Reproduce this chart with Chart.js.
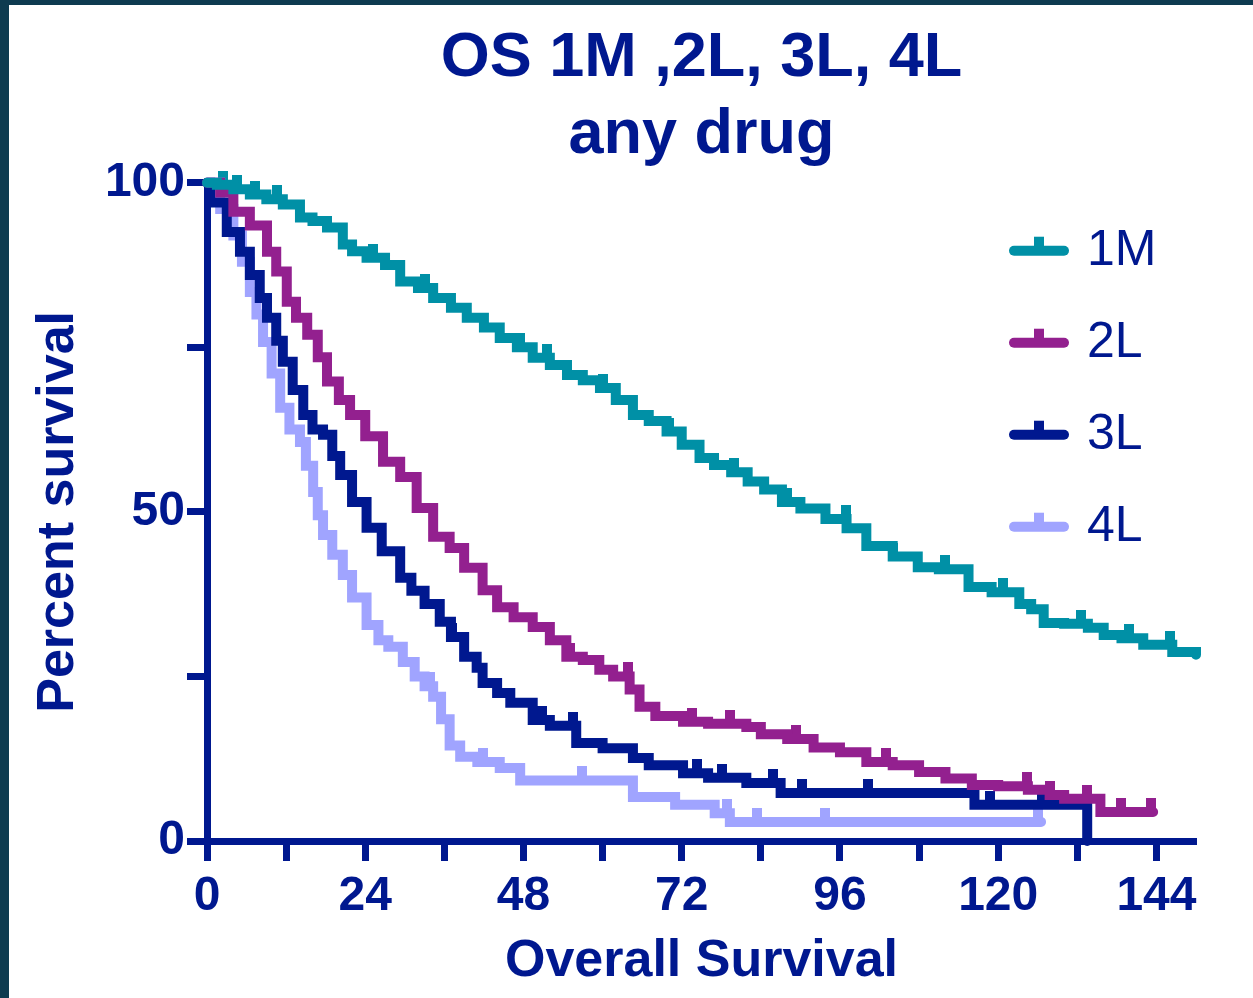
<!DOCTYPE html>
<html>
<head>
<meta charset="utf-8">
<script src="https://cdn.jsdelivr.net/npm/chart.js@4.4.0/dist/chart.umd.min.js"></script>
<style>
  html, body { margin: 0; padding: 0; background: #0e3b50; width: 1253px; height: 998px; overflow: hidden; }
  #frame { position: absolute; left: 9px; top: 5px; width: 1244px; height: 993px; background: #fff; }
</style>
</head>
<body>
<div id="frame"><canvas id="osChart" width="1244" height="993"></canvas></div>
<script>
const seriesNames = ['1M', '2L', '3L', '4L'];
const seriesColors = ['#0090a6', '#93208f', '#00188f', '#a0a4ff'];
const axisColor = '#00188f';

// months / percent survival
const time1M = [0, 1.5, 4, 6.5, 9, 11.5, 14.1, 16, 18.2, 20.6, 22, 24.2, 27, 29.3, 32, 34.3, 37, 39.4, 42, 44.4, 47, 49.4, 52, 54.6, 57, 59.6, 62, 64.6, 67, 69.7, 72, 74.7, 76.9, 79.5, 82, 84.5, 87.2, 90, 93.8, 97, 100, 104, 107.8, 111, 115.5, 119, 123.2, 125, 126.9, 130, 133.6, 136, 138.7, 142, 146.4, 150];
const surv1M = [100, 99.7, 99, 98.2, 97.5, 96.7, 94.7, 94.2, 93.2, 90.6, 89.6, 88.6, 87.5, 85, 84, 82.5, 81, 79.5, 78, 76.4, 75, 73.4, 72.3, 70.8, 70, 68.8, 67, 64.7, 63.8, 62.2, 60.2, 58.2, 57.1, 56, 54.6, 53.4, 51.5, 50.5, 48.9, 47.5, 44.8, 43.2, 41.6, 41.3, 38.6, 37.8, 36, 35.2, 33.1, 33, 32.4, 31.3, 30.8, 29.8, 28.7, 28.3];

const time2L = [0, 2, 4, 6.5, 9.1, 10.5, 12.1, 13.5, 15.2, 16.8, 18.2, 20, 21.7, 24, 26.7, 29.3, 31.8, 34.3, 36.8, 39, 41.8, 44, 46.5, 49.4, 52, 54.5, 57, 59.5, 61.6, 64.1, 65.6, 68, 72.2, 76, 81.8, 84, 88, 92, 96, 100, 104, 108, 112, 116, 120, 124.5, 127.8, 130, 135.5, 143.5];
const surv2L = [100, 98.5, 95.6, 93.5, 89.5, 86.5, 81.9, 79.5, 76.9, 73.5, 69.8, 67, 64.7, 61.5, 57.6, 55.3, 50.6, 46.2, 44.5, 41.5, 38.1, 35.5, 34, 32.5, 30.5, 28, 27.5, 26, 25, 23, 20.4, 19, 18.1, 17.8, 17.3, 16.2, 15.5, 14.2, 13.5, 12, 11.5, 10.5, 9.5, 8.5, 8.3, 7.8, 7, 6.4, 4.4, 4.4];

const time3L = [0, 0.5, 3, 5, 6.5, 8, 9.1, 10.5, 11.5, 13, 14.6, 16, 17.6, 19, 20.2, 22, 24.2, 26.5, 29.3, 31, 33, 35.3, 37, 39, 40.9, 41.8, 44, 46, 49.4, 52, 56, 60, 64.6, 67, 72.2, 76, 81.8, 87, 116.4, 133.5, 133.5];
const surv3L = [100, 97, 92.5, 89.5, 86, 82.5, 79.5, 76, 72.8, 68.5, 64.7, 62.5, 61.7, 58.5, 55.6, 51.5, 47.6, 44, 40, 38, 36, 33.3, 31, 28, 26.3, 24, 22.5, 21, 18.4, 17.5, 14.9, 14.1, 12.6, 11.5, 10.3, 9.6, 8.8, 7.3, 5.5, 5.5, 0];

const time4L = [0, 2, 4, 5.3, 6.5, 7.5, 8.5, 9.8, 11.1, 12.5, 14.1, 15, 16.1, 16.8, 17.6, 19, 20.6, 22, 24.2, 26, 27.5, 29.7, 31.5, 33, 34.3, 35.5, 36.8, 38.4, 41, 44.4, 47.5, 64.6, 71, 77, 79.3, 126.5];
const surv4L = [100, 96, 92, 88, 83.4, 80, 75.8, 71, 65.8, 62.5, 60.6, 57, 53, 49.5, 46.5, 43.5, 40.4, 37, 32.8, 30.5, 29.5, 27.2, 25, 23.5, 21.9, 18.5, 14.5, 12.8, 12, 11.1, 9.2, 6.7, 5.5, 4.2, 2.9, 2.9];

// censored observations (months)
const censor1M = [2.5, 4.5, 7.3, 10.6, 25.2, 33, 47.4, 51.5, 60, 70, 80, 88, 96.9, 104, 112, 120.7, 132.5, 139.8, 146];
const censor2L = [55, 63.8, 73.5, 79.3, 89.4, 103, 124.3, 127.8, 133.4, 138.7, 143.2];
const censor3L = [37.1, 50.8, 55.5, 74.3, 78.1, 85.8, 90.2, 100.2, 118.7, 126.7];
const censor4L = [33.8, 41.8, 56.8, 78.8, 83.4, 93.7, 126];

const xTicks = [0, 12, 24, 36, 48, 60, 72, 84, 96, 108, 120, 132, 144];
const xLabels = [0, 24, 48, 72, 96, 120, 144];
const yTicks = [0, 25, 50, 75, 100];
const yLabels = [0, 50, 100];

const times = [time1M, time2L, time3L, time4L];
const survs = [surv1M, surv2L, surv3L, surv4L];
const censors = [censor1M, censor2L, censor3L, censor4L];

function stepAt(ts, vs, t) {
    let v = vs[0];
    for (let i = 0; i < ts.length; i++) {
        if (ts[i] <= t) v = vs[i];
    }
    return v;
}

function tickImage(color) {
    const c = document.createElement('canvas');
    c.width = 10;
    c.height = 28;
    const g = c.getContext('2d');
    g.fillStyle = color;
    g.fillRect(0, 0, 10, 14);
    return c;
}

Chart.defaults.font.family = '"Liberation Sans", Arial, sans-serif';

const datasets = [];
seriesNames.forEach((name, i) => {
    datasets.push({
        label: name,
        data: times[i].map((t, k) => ({ x: t, y: survs[i][k] })),
        borderColor: seriesColors[i],
        backgroundColor: seriesColors[i],
        borderWidth: 10,
        borderCapStyle: 'round',
        stepped: true,
        pointRadius: 0,
        clip: false
    });
});
seriesNames.forEach((name, i) => {
    datasets.push({
        label: name + ' censored',
        data: censors[i].map(t => ({ x: t, y: stepAt(times[i], survs[i], t) })),
        showLine: false,
        pointStyle: tickImage(seriesColors[i]),
        pointRadius: 5,
        clip: false
    });
});

const legendPlugin = {
    id: 'kmLegend',
    afterDatasetsDraw(chart) {
        const ctx = chart.ctx;
        const area = chart.chartArea;
        ctx.save();
        seriesNames.forEach((name, i) => {
            const y = area.top + 68 + i * 92;
            const x0 = area.right - 182;
            const x1 = area.right - 132;
            ctx.strokeStyle = seriesColors[i];
            ctx.fillStyle = seriesColors[i];
            ctx.lineWidth = 10;
            ctx.lineCap = 'round';
            ctx.beginPath();
            ctx.moveTo(x0, y);
            ctx.lineTo(x1, y);
            ctx.stroke();
            ctx.fillRect(area.right - 162, y - 14, 10, 10);
            ctx.fillStyle = axisColor;
            ctx.font = '50px "Liberation Sans", Arial, sans-serif';
            ctx.textAlign = 'left';
            ctx.textBaseline = 'middle';
            ctx.fillText(name, area.right - 109, y);
        });
        ctx.restore();
    }
};

new Chart(document.getElementById('osChart').getContext('2d'), {
    type: 'line',
    data: { datasets: datasets },
    options: {
        responsive: false,
        animation: false,
        events: [],
        layout: { padding: { left: 0, right: 57, top: 0, bottom: 0 } },
        plugins: {
            legend: { display: false },
            tooltip: { enabled: false },
            title: {
                display: true,
                fullSize: false,
                text: ['OS 1M ,2L, 3L, 4L', 'any drug'],
                color: axisColor,
                font: { size: 63, weight: 'bold', lineHeight: 1.22 },
                padding: { top: 15, bottom: 9 }
            }
        },
        scales: {
            x: {
                type: 'linear',
                min: 0,
                max: 150,
                afterBuildTicks: s => { s.ticks = xTicks.map(v => ({ value: v })); },
                afterFit: s => { s.height = 157; },
                border: { color: axisColor, width: 7 },
                grid: { display: true, drawOnChartArea: false, drawTicks: true, tickLength: 20, tickWidth: 7, tickColor: axisColor },
                ticks: {
                    autoSkip: false,
                    maxRotation: 0,
                    padding: 7,
                    color: axisColor,
                    font: { size: 48, weight: 'bold' },
                    callback: v => xLabels.includes(v) ? String(v) : ''
                },
                title: {
                    display: true,
                    text: 'Overall Survival',
                    color: axisColor,
                    font: { size: 52, weight: 'bold' },
                    padding: { top: 0, bottom: 5 }
                }
            },
            y: {
                min: 0,
                max: 100,
                afterBuildTicks: s => { s.ticks = yTicks.map(v => ({ value: v })); },
                afterFit: s => { s.width = 198; },
                border: { color: axisColor, width: 7 },
                grid: { display: true, drawOnChartArea: false, drawTicks: true, tickLength: 20, tickWidth: 7, tickColor: axisColor },
                ticks: {
                    padding: 2,
                    color: axisColor,
                    font: { size: 48, weight: 'bold' },
                    callback: v => yLabels.includes(v) ? String(v) : ''
                },
                title: {
                    display: true,
                    text: 'Percent survival',
                    color: axisColor,
                    font: { size: 52, weight: 'bold' },
                    padding: { top: 18, bottom: 0 }
                }
            }
        }
    },
    plugins: [legendPlugin]
});
</script>
</body>
</html>
